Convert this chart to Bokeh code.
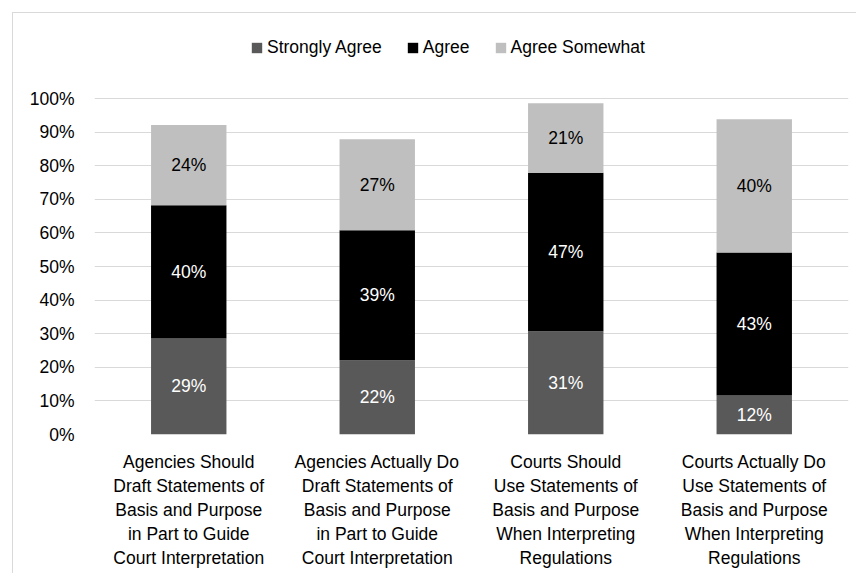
import numpy as np
from bokeh.plotting import figure
from bokeh.models import (ColumnDataSource, FactorRange, Range1d, Legend, LegendItem,
                          FixedTicker, PrintfTickFormatter)
from bokeh.core.properties import value
from bokeh.embed import file_html
from bokeh.resources import INLINE

FONT = "Liberation Sans"
FS = "17.5px"

categories = [
    "Agencies Should\nDraft Statements of\nBasis and Purpose\nin Part to Guide\nCourt Interpretation",
    "Agencies Actually Do\nDraft Statements of\nBasis and Purpose\nin Part to Guide\nCourt Interpretation",
    "Courts Should\nUse Statements of\nBasis and Purpose\nWhen Interpreting\nRegulations",
    "Courts Actually Do\nUse Statements of\nBasis and Purpose\nWhen Interpreting\nRegulations",
]
series_names = ["Strongly Agree", "Agree", "Agree Somewhat"]
strongly_agree = [28.6, 22.1, 30.7, 11.6]
agree = [39.6, 38.7, 47.2, 42.6]
agree_somewhat = [23.9, 27.1, 20.7, 39.6]
y_ticks = [0, 10, 20, 30, 40, 50, 60, 70, 80, 90, 100]

colors = ["#595959", "#000000", "#BFBFBF"]
label_colors = ["#FFFFFF", "#FFFFFF", "#000000"]
keys = ["sa", "a", "as"]

source = ColumnDataSource(dict(cat=categories, sa=strongly_agree, a=agree, **{"as": agree_somewhat}))

# y range extends above 100% to leave room for the legend inside the frame
p = figure(x_range=FactorRange(factors=categories), y_range=Range1d(0, 125),
           width=844, height=561, output_backend="svg", toolbar_location=None,
           min_border_left=81, min_border_right=9, min_border_top=1, min_border_bottom=140)
p.styles = {"margin-left": "12px", "margin-top": "12px",
            "border-left": "1px solid #d9d9d9", "border-top": "1px solid #d9d9d9"}
p.outline_line_color = None
p.background_fill_color = "white"
p.border_fill_color = "white"

renderers = p.vbar_stack(keys, x="cat", width=0.4, color=colors, line_color=None, source=source)

# segment labels
vals = np.array([strongly_agree, agree, agree_somewhat])
tops = np.cumsum(vals, axis=0)
bottoms = tops - vals
for i in range(3):
    mids = (tops[i] + bottoms[i]) / 2
    texts = [f"{int(np.floor(v + 0.5))}%" for v in vals[i]]
    p.text(x=categories, y=list(mids), text=texts, text_align="center", text_baseline="middle",
           text_color=label_colors[i], text_font=value(FONT), text_font_size=FS)

p.xgrid.grid_line_color = None
p.ygrid.grid_line_color = "#D9D9D9"
p.ygrid.grid_line_width = 1

p.yaxis.ticker = FixedTicker(ticks=y_ticks)
p.yaxis.formatter = PrintfTickFormatter(format="%d%%")
for ax in (p.xaxis, p.yaxis):
    ax.axis_line_color = None
    ax.major_tick_line_color = None
    ax.minor_tick_line_color = None
    ax.major_tick_out = 0
    ax.major_tick_in = 0
    ax.major_label_text_font = FONT
    ax.major_label_text_font_size = FS
    ax.major_label_text_color = "#000000"
p.yaxis.major_label_standoff = 20
p.xaxis.major_label_standoff = 17
p.xaxis.major_label_text_line_height = 1.2

legend = Legend(items=[LegendItem(label=n, renderers=[r]) for n, r in zip(series_names, renderers)],
                orientation="horizontal", location=(156, 376), padding=0, margin=0,
                spacing=24, label_standoff=4, glyph_width=13, glyph_height=13,
                border_line_color=None, background_fill_alpha=0,
                label_text_font=FONT, label_text_font_size=FS, label_text_color="#000000")
p.add_layout(legend, "center")

open("out.html", "w").write(file_html(p, INLINE))
